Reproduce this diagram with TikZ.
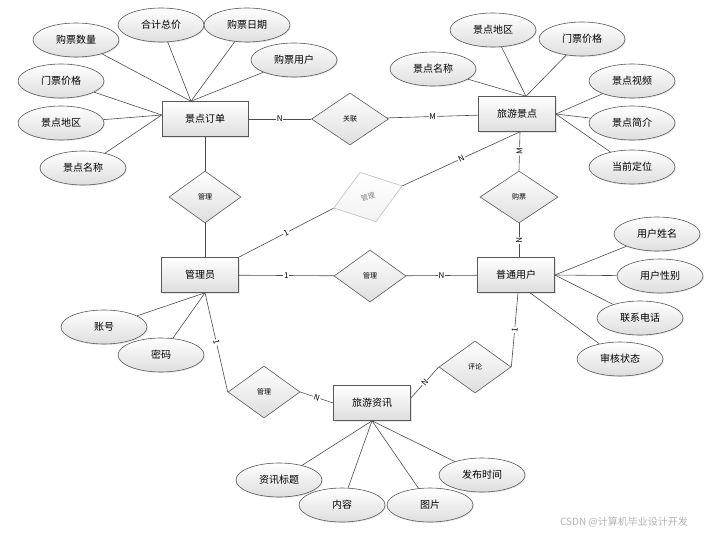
\documentclass[tikz,border=0pt]{standalone}
\usepackage{fontspec}
\setmainfont{Noto Sans CJK SC}
\usepackage{tikz}
\usetikzlibrary{shapes,positioning,calc,shadows}

\begin{document}
\begin{tikzpicture}[x=1pt, y=-1pt, line width=0.6pt, draw=black!70,
        ent/.style={rectangle, draw=black!65, top color=white, bottom color=black!13, minimum width=77pt, minimum height=35pt, font=\fontsize{10}{12}\selectfont, drop shadow={opacity=0.2, shadow xshift=1pt, shadow yshift=-1pt}},
        attr/.style={ellipse, draw=black!65, top color=white, bottom color=black!13, minimum width=86pt, minimum height=34pt, inner sep=0pt, font=\fontsize{10}{12}\selectfont, drop shadow={opacity=0.2, shadow xshift=1pt, shadow yshift=-1pt}},
        rel/.style={diamond, draw=black!65, top color=white, bottom color=black!13, minimum width=72pt, minimum height=52pt, inner sep=0pt, font=\fontsize{7}{8}\selectfont},
        card/.style={font=\fontsize{8}{9}\selectfont, fill=white, inner sep=0.8pt}]

        \useasboundingbox (0,0) rectangle (720,535);

        \node [ent, minimum width=86pt] (order) at (205,119) {景点订单};
        \node [ent] (spot) at (517,114) {旅游景点};
        \node [ent] (admin) at (200,275) {管理员};
        \node [ent] (user) at (516,275) {普通用户};
        \node [ent] (news) at (372,403) {旅游资讯};

        \node [rel, minimum width=77pt] (assoc) at (350,119) {关联};
        \node [rel] (manage) at (205,197) {管理};
        \node [rel, draw=black!25, bottom color=black!5, text=black!50, rotate=18] (check) at (368,197) {管理};
        \node [rel, minimum width=78pt] (buy) at (519,197) {购票};
        \node [rel] (mgruser) at (370,276) {管理};
        \node [rel] (mgrnews) at (264,392) {管理};
        \node [rel] (comment) at (475,367) {评论};

        \node [attr] (onum) at (76,40) {购票数量};
        \node [attr] (osum) at (161,25) {合计总价};
        \node [attr] (odate) at (247,25) {购票日期};
        \node [attr] (ouser) at (294,60) {购票用户};
        \node [attr] (oprice) at (61,81) {门票价格};
        \node [attr] (oarea) at (61,123) {景点地区};
        \node [attr] (oname) at (83,168) {景点名称};

        \node [attr] (sarea) at (493,30) {景点地区};
        \node [attr] (sprice) at (582,39) {门票价格};
        \node [attr] (sname) at (433,69) {景点名称};
        \node [attr] (svideo) at (632,81) {景点视频};
        \node [attr] (sintro) at (632,123) {景点简介};
        \node [attr] (sloc) at (632,167) {当前定位};

        \node [attr] (uname) at (657,234) {用户姓名};
        \node [attr] (usex) at (660,276) {用户性别};
        \node [attr] (utel) at (640,318) {联系电话};
        \node [attr] (ustate) at (620,359) {审核状态};

        \node [attr] (acc) at (104,327) {账号};
        \node [attr] (pwd) at (161,355) {密码};

        \node [attr] (ntitle) at (279,480) {资讯标题};
        \node [attr] (ntext) at (342,505) {内容};
        \node [attr] (npic) at (430,505) {图片};
        \node [attr] (ntime) at (482,475) {发布时间};

        \node [text=black!30, font=\fontsize{10}{12}\selectfont] (mark) at (624,522) {CSDN @计算机毕业设计开发};

        \coordinate (ordtop) at ($(order.north)+(-14,0)$);
        \coordinate (ordleft) at ($(order.west)+(0,-4)$);
        \coordinate (spottop) at ($(spot.north)+(9,0)$);
        \coordinate (spotbot) at ($(spot.south)+(3,0)$);
        \coordinate (admbot) at ($(admin.south)+(5,0)$);
        \coordinate (usrbot) at ($(user.south)+(2,0)$);
        \coordinate (usrbot2) at ($(user.south)+(14,0)$);
        \coordinate (newsright) at ($(news.east)+(0,-5)$);

        \foreach \a in {onum,osum,odate,ouser} \draw (\a) -- (ordtop);
        \foreach \a in {oprice,oarea,oname} \draw (\a) -- (ordleft);
        \foreach \a in {sname,sarea,sprice} \draw (\a) -- (spottop);
        \foreach \a in {svideo,sintro,sloc} \draw (\a) -- (spot.east);
        \foreach \a in {uname,usex,utel} \draw (\a) -- (user.east);
        \draw (ustate) -- (usrbot2);
        \foreach \a in {acc,pwd} \draw (\a) -- (admbot);
        \foreach \a in {ntitle,ntext,npic,ntime} \draw (\a) -- (news.south);

        \draw (order) -- node [card] {N} (assoc);
        \draw (assoc) -- node [card] {M} (spot);
        \draw (order.south -| manage.north) -- (manage.north);
        \draw (manage.south) -- (manage.south |- admin.north);
        \draw (spotbot) -- node [card, sloped] {M} (buy.north);
        \draw (buy.south) -- node [card, sloped] {N} (buy.south |- user.north);
        \draw (admin.north east) -- node [card, sloped] {1} (check.west);
        \draw (check.east) -- node [card, sloped] {N} (spotbot);
        \draw (admin) -- node [card] {1} (mgruser);
        \draw (mgruser) -- node [card] {N} (user);
        \draw (admbot) -- node [card, sloped] {1} (mgrnews.west);
        \draw (mgrnews.east) -- node [card, sloped] {N} (news.west);
        \draw (newsright) -- node [card, sloped] {N} (comment.west);
        \draw (comment.east) -- node [card, sloped] {1} (usrbot);
    \end{tikzpicture}
\end{document}
